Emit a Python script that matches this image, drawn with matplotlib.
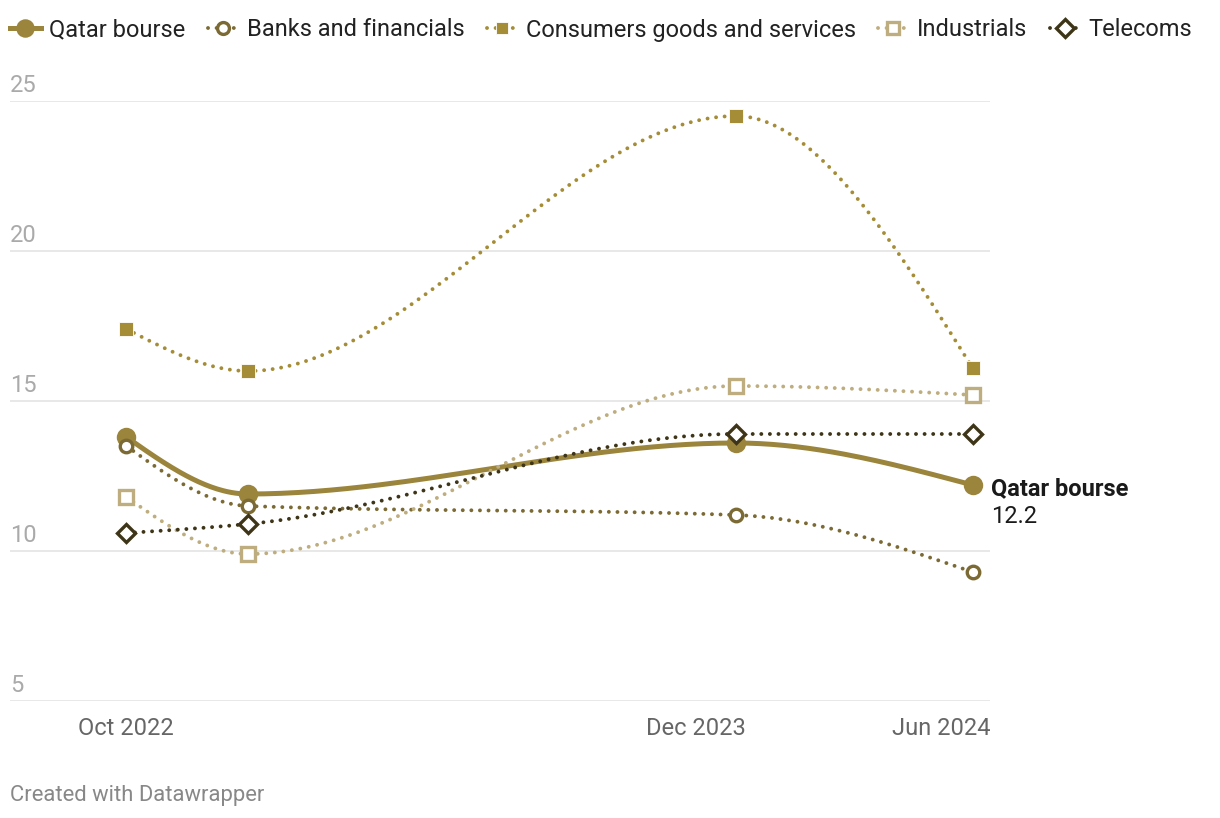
import numpy as np
import matplotlib
matplotlib.use("Agg")
import matplotlib.pyplot as plt
import matplotlib.dates as mdates
from matplotlib.lines import Line2D

plt.rcParams['font.family'] = ['Roboto', 'DejaVu Sans']

# data (P/E ratios)
dates = np.array(["2022-10-01", "2022-12-31", "2023-12-31", "2024-06-25"], dtype="datetime64[D]")
qatar = [13.8, 11.9, 13.6, 12.2]
banks = [13.5, 11.5, 11.2, 9.3]
consumer = [17.4, 16.0, 24.5, 16.1]
industrials = [11.8, 9.9, 15.5, 15.2]
telecoms = [10.6, 10.9, 13.9, 13.9]

yticks = [5, 10, 15, 20, 25]
xtick_dates = np.array(["2022-10-01", "2023-12-01", "2024-06-01"], dtype="datetime64[D]")
xtick_labels = ["Oct 2022", "Dec 2023", "Jun 2024"]


def monotone_x(x, y, n=60):
    # d3 curveMonotoneX style cubic hermite between the points
    x = np.asarray(x, float)
    y = np.asarray(y, float)
    h = np.diff(x)
    s = np.diff(y) / h
    t = np.zeros(len(x))
    for i in range(1, len(x) - 1):
        p = (s[i - 1] * h[i] + s[i] * h[i - 1]) / (h[i - 1] + h[i])
        t[i] = (np.sign(s[i - 1]) + np.sign(s[i])) * min(abs(s[i - 1]), abs(s[i]), 0.5 * abs(p))
    t[0] = (3 * s[0] - t[1]) / 2
    t[-1] = (3 * s[-1] - t[-2]) / 2
    xs, ys = [], []
    for i in range(len(x) - 1):
        u = np.linspace(0, 1, n)
        h00 = 2 * u**3 - 3 * u**2 + 1
        h10 = u**3 - 2 * u**2 + u
        h01 = -2 * u**3 + 3 * u**2
        h11 = u**3 - u**2
        xs.append(x[i] + u * h[i])
        ys.append(h00 * y[i] + h10 * h[i] * t[i] + h01 * y[i + 1] + h11 * h[i] * t[i + 1])
    return np.concatenate(xs), np.concatenate(ys)


W, H = 1220, 818
fig = plt.figure(figsize=(W / 100, H / 100), dpi=100)
ax = fig.add_axes([10 / W, (H - 701) / H, 980 / W, 600 / H])

xnum = mdates.date2num(dates.astype("datetime64[ns]"))
dot = (0, (0.01, 2.2))

series = [
    ("Qatar bourse", qatar, dict(color="#9b843b", lw=3.6, ls="-",
                                 marker="o", ms=14, mfc="#9b843b", mec="#9b843b", mew=0)),
    ("Banks and financials", banks, dict(color="#7b6a34", lw=2.8, ls=dot,
                                         marker="o", ms=9, mfc="white", mec="#7b6a34", mew=2.4)),
    ("Consumers goods and services", consumer, dict(color="#a58d37", lw=2.8, ls=dot,
                                                    marker="s", ms=9.5, mfc="#a58d37", mec="white", mew=0.6)),
    ("Industrials", industrials, dict(color="#bead7f", lw=2.8, ls=dot,
                                      marker="s", ms=9.5, mfc="white", mec="#bead7f", mew=2.4)),
    ("Telecoms", telecoms, dict(color="#3e3518", lw=2.8, ls=dot,
                                marker="D", ms=9.6, mfc="white", mec="#3e3518", mew=2.4)),
]

for yv in yticks:
    ax.axhline(yv, color="#e1e1e1", lw=1.1, zorder=0)
    ax.annotate(str(yv), (0, yv), xycoords=("axes fraction", "data"),
                xytext=(0, 6.5), textcoords="offset points",
                ha="left", va="baseline", fontsize=17, color="#aaaaaa")

handles = []
for name, vals, st in series:
    cx, cy = monotone_x(xnum, vals)
    ax.plot(cx, cy, color=st["color"], lw=st["lw"], ls=st["ls"],
            dash_capstyle="round", solid_capstyle="round", clip_on=False)
    ax.plot(xnum, vals, ls="none", marker=st["marker"], ms=st["ms"], mfc=st["mfc"],
            mec=st["mec"], mew=st["mew"], clip_on=False, zorder=3)
    handles.append(Line2D([], [], **st, dash_capstyle="round"))

ax.set_xlim(mdates.date2num(np.datetime64("2022-07-06")), mdates.date2num(np.datetime64("2024-07-08")))
ax.set_ylim(5, 25)
ax.axis("off")

tick_num = mdates.date2num(xtick_dates.astype("datetime64[ns]"))
for i, (tx, lab) in enumerate(zip(tick_num, xtick_labels)):
    if i == len(tick_num) - 1:
        ax.annotate(lab, (1, 0), xycoords="axes fraction", xytext=(0, -20),
                    textcoords="offset points", ha="right", va="center",
                    fontsize=17, color="#666666")
    else:
        ax.annotate(lab, (tx, 0), xycoords=("data", "axes fraction"), xytext=(0, -20),
                    textcoords="offset points", ha="center", va="center",
                    fontsize=17, color="#666666")

# end label
ax.annotate("Qatar bourse", (xnum[-1], qatar[-1]), xytext=(13, -3),
            textcoords="offset points", ha="left", va="center",
            fontsize=17, fontweight="bold", color="#1a1a1a")
ax.annotate(f"{qatar[-1]:.1f}", (xnum[-1], qatar[-1]), xytext=(13, -23),
            textcoords="offset points", ha="left", va="center",
            fontsize=17, color="#1a1a1a")

fig.legend(handles, [s[0] for s in series], loc="center left",
           bbox_to_anchor=(10 / W, 1 - 30 / H), ncol=5, frameon=False,
           fontsize=17, handlelength=1.3, handletextpad=0.35, columnspacing=0.95,
           borderpad=0, borderaxespad=0, numpoints=1, markerscale=0.95,
           labelcolor="#222222")

fig.text(10 / W, 1 - 795 / H, "Created with Datawrapper", ha="left", va="center",
         fontsize=15.8, color="#888888")

fig.savefig("out.png", dpi=100)
